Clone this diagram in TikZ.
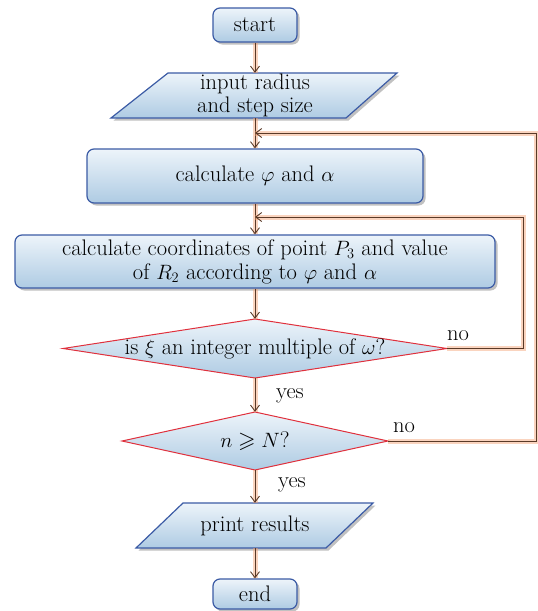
\documentclass[tikz,border=0pt]{standalone}
\usepackage{amsmath,amssymb}
\usetikzlibrary{shadows,arrows.meta,calc}
\definecolor{bordblue}{HTML}{3B5BA5}
\definecolor{bordred}{HTML}{E0303C}
\definecolor{topfill}{HTML}{EDF4FA}
\definecolor{botfill}{HTML}{AECBE3}
\definecolor{arrowc}{HTML}{5A3A28}
\definecolor{glowc}{HTML}{F5A070}
\begin{document}
\begin{tikzpicture}[x=1pt,y=-1pt,font=\fontsize{22.5}{23}\selectfont,
  shadowed/.style={drop shadow={shadow xshift=2.5pt,shadow yshift=-2.5pt,opacity=.35,fill=black!70}},
  boxshade/.style={top color=topfill,bottom color=botfill},
  box/.style={draw=bordblue,line width=1.2pt,rounded corners=7pt,boxshade,shadowed,inner sep=0pt,align=center},
  para/.style={draw=bordblue,line width=1.2pt,boxshade,shadowed},
  dia/.style={draw=bordred,line width=1pt,boxshade},
  holder/.style={inner sep=0pt,align=center},
  conn/.style={draw=arrowc,line width=.9pt,-{Straight Barb[length=6pt,width=9pt]},
    preaction={draw=glowc,line width=5pt,opacity=.45,-}},
  lbl/.style={inner sep=0pt}]
\useasboundingbox (0,0) rectangle (538,611);

% process boxes
\node[box,minimum width=84pt,minimum height=34pt] (start) at (255,25) {start};
\node[box,minimum width=336pt,minimum height=54pt] (phi) at (255,176) {calculate $\varphi$ and $\alpha$};
\node[box,minimum width=480pt,minimum height=53pt] (coord) at (255,261.5)
  {calculate coordinates of point $P_3$ and value\\[1pt]of $R_2$ according to $\varphi$ and $\alpha$};
\node[box,minimum width=84pt,minimum height=30pt] (end) at (255,594) {end};

% input parallelogram
\path[para] (168,73) -- (397,73) -- (346,118) -- (111,118) -- cycle;
\node[holder,minimum width=286pt,minimum height=45pt] (in) at (255,95.5) {input radius\\and step size};

% decisions
\path[dia] (255,319) -- (447,348.5) -- (255,378) -- (63,348.5) -- cycle;
\node[holder,minimum width=384pt,minimum height=59pt] (d1) at (255,348.5) {is $\xi$ an integer multiple of $\omega$?};
\path[dia] (255,412) -- (388,441) -- (255,470) -- (122,441) -- cycle;
\node[holder,minimum width=266pt,minimum height=58pt] (d2) at (255,441) {$n\geqslant N$?};

% output parallelogram
\path[para] (183,503) -- (373,503) -- (326,548) -- (136,548) -- cycle;
\node[holder,minimum width=237pt,minimum height=45pt] (pr) at (255,525.5) {print results};

% connectors
\draw[conn] (start.south) -- (in.north);
\draw[conn] (in.south) -- (phi.north);
\draw[conn] (phi.south) -- (coord.north);
\draw[conn] (coord.south) -- (d1.north);
\draw[conn] (d1.south) -- (d2.north);
\draw[conn] (d2.south) -- (pr.north);
\draw[conn] (pr.south) -- (end.north);

\coordinate (j1) at (255,217);
\coordinate (c1) at (523,217);
\coordinate (j2) at (255,133);
\coordinate (c2) at (536,133);
\draw[conn] (d1.east) -| (c1) -- (j1);
\draw[conn] (d2.east) -| (c2) -- (j2);

% labels
\node[lbl] (no1) at (458,336) {no};
\node[lbl] (no2) at (404,428) {no};
\node[lbl] (yes1) at (290,396) {yes};
\node[lbl] (yes2) at (292,485) {yes};
\end{tikzpicture}
\end{document}
